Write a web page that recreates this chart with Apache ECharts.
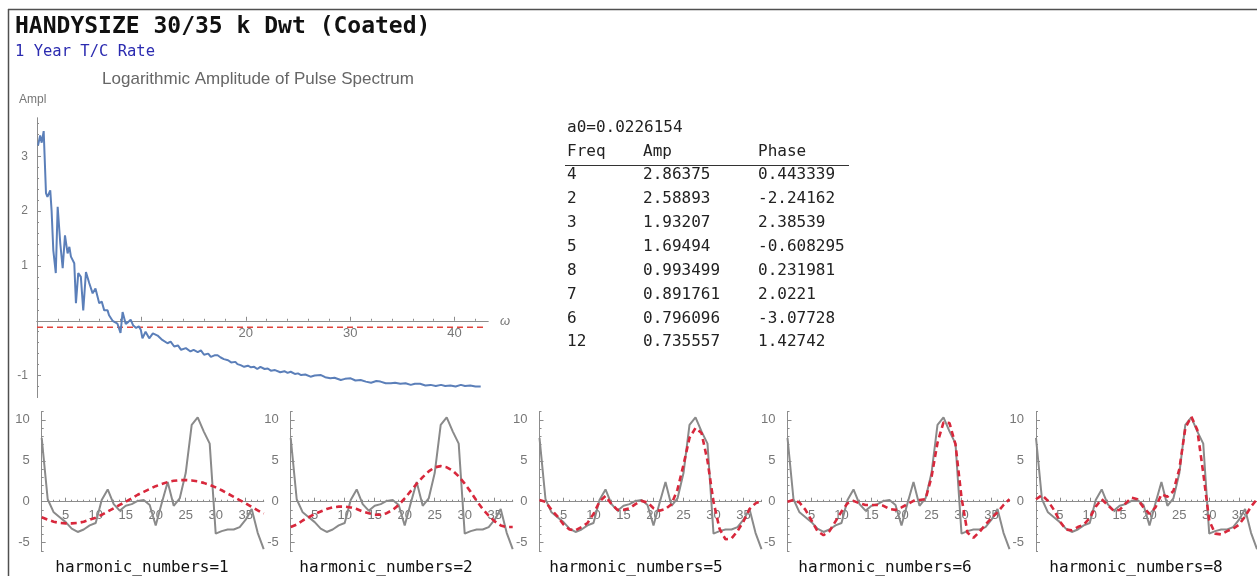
<!DOCTYPE html>
<html>
<head>
<meta charset="utf-8">
<script src="https://cdn.jsdelivr.net/npm/echarts@6/dist/echarts.min.js"></script>
<style>
  html, body { margin: 0; padding: 0; background: #fff; }
  #chart { width: 1257px; height: 576px; }
</style>
</head>
<body>
<div id="chart"></div>
<script>
// ---- Spectrum: log amplitude vs angular frequency ----
const omega = [0.1, 0.3, 0.45, 0.64, 0.86, 1.0, 1.27, 1.4, 1.56, 1.8, 1.98, 2.23, 2.46, 2.68, 2.93, 3.1, 3.25, 3.57, 3.73, 3.95,
  4.2, 4.43, 4.69, 5.0, 5.33, 5.6, 5.96, 6.2, 6.44, 6.76, 6.9, 7.24, 7.5, 7.7, 8.0, 8.2, 8.5, 8.75, 8.97, 9.2,
  9.5, 9.75, 9.95, 10.1, 10.4, 10.75, 11.1, 11.55, 12.0, 12.5, 12.8, 13.14, 13.5, 13.8, 14.26, 14.7, 15.0, 15.4, 15.7, 16.0,
  16.4, 16.65, 17.0, 17.3, 17.6, 17.9, 18.3, 18.6, 19.0, 19.2, 19.5, 19.84, 20.2, 20.5, 20.8, 21.1, 21.4, 21.8, 22.1, 22.4,
  22.8, 23.3, 23.7, 24.0, 24.3, 24.7, 25.0, 25.3, 25.7, 26.2, 26.6, 27.2, 27.6, 28.1, 28.5, 29.1, 29.5, 30.05, 30.5, 31.0,
  31.5, 32.0, 32.5, 32.9, 33.4, 33.9, 34.3, 34.8, 35.3, 35.8, 36.2, 36.7, 37.2, 37.7, 38.2, 38.7, 39.1, 39.6, 40.1, 40.6,
  41.0, 41.5, 42.0, 42.5];
const logAmp = [3.20, 3.38, 3.25, 3.46, 2.33, 2.26, 2.38, 2.0, 1.29, 0.87, 2.08, 1.41, 0.96, 1.56, 1.23, 1.35, 1.17, 1.05, 0.32, 0.87,
  0.80, 0.19, 0.89, 0.69, 0.50, 0.59, 0.32, 0.35, 0.19, 0.19, 0.10, 0.0, -0.03, -0.05, -0.22, 0.16, -0.06, -0.02, 0.02, -0.08,
  -0.13, -0.10, -0.17, -0.32, -0.20, -0.32, -0.23, -0.27, -0.35, -0.41, -0.38, -0.47, -0.45, -0.53, -0.50, -0.56, -0.53, -0.57, -0.54, -0.62,
  -0.60, -0.66, -0.63, -0.63, -0.67, -0.70, -0.72, -0.76, -0.75, -0.79, -0.81, -0.84, -0.82, -0.85, -0.84, -0.88, -0.84, -0.88, -0.87, -0.91,
  -0.90, -0.94, -0.92, -0.95, -0.93, -0.97, -0.96, -0.99, -0.98, -1.02, -1.00, -0.99, -1.03, -1.05, -1.04, -1.08, -1.06, -1.05, -1.09, -1.08,
  -1.11, -1.13, -1.10, -1.11, -1.14, -1.14, -1.13, -1.15, -1.14, -1.17, -1.15, -1.15, -1.18, -1.17, -1.19, -1.17, -1.19, -1.18, -1.20, -1.17,
  -1.19, -1.18, -1.20, -1.20];
const cutoffLevel = -0.12;
const cutoffSpan = [0, 43];

// ---- Strongest harmonics ----
const a0Text = 'a0=0.0226154';
const tableFreq = ['4', '2', '3', '5', '8', '7', '6', '12'];
const tableAmp = ['2.86375', '2.58893', '1.93207', '1.69494', '0.993499', '0.891761', '0.796096', '0.735557'];
const tablePhase = ['0.443339', '-2.24162', '2.38539', '-0.608295', '0.231981', '2.0221', '-3.07728', '1.42742'];

// ---- Rate series and partial Fourier reconstructions ----
const timeIndex = [1, 2, 3, 4, 5, 6, 7, 8, 9, 10, 11, 12, 13, 14, 15, 16, 17, 18, 19, 20,
  21, 22, 23, 24, 25, 26, 27, 28, 29, 30, 31, 32, 33, 34, 35, 36, 37, 38];
const rateSeries = [7.8, 0.3, -1.3, -1.9, -2.5, -3.3, -3.7, -3.4, -2.9, -2.6, 0.2, 1.5, -0.3, -1.1, -0.5, -0.3, 0.1, 0.2, -0.4, -2.9,
  -0.2, 2.4, -0.5, 0.4, 3.5, 9.4, 10.3, 8.6, 7.1, -3.9, -3.6, -3.4, -3.4, -3.1, -2.2, -0.9, -3.8, -5.8];
const fitH1 = [-1.9, -2.2, -2.45, -2.6, -2.65, -2.65, -2.6, -2.45, -2.2, -1.95, -1.6, -1.2, -0.8, -0.4, 0.0, 0.4, 0.85, 1.2, 1.55, 1.9,
  2.15, 2.4, 2.55, 2.63, 2.65, 2.6, 2.5, 2.3, 2.05, 1.75, 1.4, 1.0, 0.6, 0.2, -0.2, -0.65, -1.05, -1.45];
const fitH2 = [-3.1, -2.8, -2.3, -1.9, -1.5, -1.2, -0.9, -0.7, -0.6, -0.6, -0.7, -0.9, -1.2, -1.4, -1.6, -1.6, -1.4, -1.0, -0.4, 0.4,
  1.3, 2.2, 3.0, 3.7, 4.2, 4.35, 4.2, 3.8, 3.1, 2.2, 1.2, 0.1, -0.9, -1.7, -2.4, -2.9, -3.1, -3.1];
const fitH5 = [0.2, 0.0, -1.0, -1.8, -2.8, -3.4, -3.5, -3.1, -2.6, -1.5, 0.0, 0.7, -0.3, -1.0, -1.0, -0.8, -0.3, 0.1, -0.1, -0.8,
  -1.1, -0.9, -0.3, 1.5, 4.5, 7.8, 9.0, 8.4, 5.0, 0.0, -3.3, -4.6, -4.5, -3.6, -2.4, -0.9, -0.2, 0.1];
const fitH6 = [0.0, 0.2, -0.1, -1.0, -2.3, -3.6, -4.1, -3.6, -2.4, -1.2, -0.2, 0.1, -0.2, -0.4, -0.4, -0.4, -0.5, -0.9, -1.0, -0.7,
  -0.3, 0.1, 0.2, 0.3, 3.0, 7.2, 9.7, 9.6, 7.0, 0.5, -3.8, -4.4, -3.7, -2.8, -2.0, -1.3, -0.4, 0.3];
const fitH8 = [0.3, 0.8, 0.1, -1.0, -2.4, -3.4, -3.5, -3.1, -2.8, -2.0, -0.6, 0.3, -0.4, -1.1, -1.0, -0.2, 0.5, 0.3, -0.7, -1.5,
  -0.7, 0.9, 0.6, 1.3, 4.0, 9.0, 10.4, 8.8, 3.5, -2.3, -3.9, -4.0, -3.6, -3.3, -2.8, -1.8, -0.6, 0.3];
const harmonicCounts = [1, 2, 5, 6, 8];
const fits = [fitH1, fitH2, fitH5, fitH6, fitH8];

// ---- Tick values ----
const specXMajor = [0, 10, 20, 30, 40];
const specXLabels = [20, 30, 40];
const specXMinor = [2, 4, 6, 8, 12, 14, 16, 18, 22, 24, 26, 28, 32, 34, 36, 38, 42];
const specYMajor = [-1, 0, 1, 2, 3];
const specYLabels = [-1, 1, 2, 3];
const specYMinor = [-1.2, -0.8, -0.6, -0.4, -0.2, 0.2, 0.4, 0.6, 0.8, 1.2, 1.4, 1.6, 1.8, 2.2, 2.4, 2.6, 2.8, 3.2, 3.4, 3.6];
const panelXMajor = [5, 10, 15, 20, 25, 30, 35];
const panelXMinor = [2, 3, 4, 6, 7, 8, 9, 11, 12, 13, 14, 16, 17, 18, 19, 21, 22, 23, 24, 26, 27, 28, 29, 31, 32, 33, 34, 36, 37, 38];
const panelYMajor = [-5, 0, 5, 10];
const panelYMinor = [-6, -4, -3, -2, -1, 1, 2, 3, 4, 6, 7, 8, 9, 11];

const AXIS = '#8c8c8c';
const LABEL = '#777';
const MONO = '"DejaVu Sans Mono", "Liberation Mono", monospace';
const SANS = '"Liberation Sans", Arial, sans-serif';

// Value axis with custom tick/label positions.  For the horizontal axes the
// line is lifted from the grid bottom to the y = 0 level (offset < 0).
function axis(gridIndex, min, max, pos, major, labels, opts) {
  opts = opts || {};
  return {
    type: 'value', gridIndex, min, max, position: pos, offset: opts.offset || 0,
    axisLine: { show: true, onZero: false, lineStyle: { color: AXIS, width: 1 } },
    axisTick: { show: true, inside: true, length: opts.tickLen || 4, customValues: major, lineStyle: { color: AXIS } },
    axisLabel: labels ? {
      show: true, customValues: labels, color: LABEL, fontSize: opts.fontSize || 12,
      fontFamily: SANS, margin: opts.margin || 6
    } : { show: false },
    splitLine: { show: false }
  };
}

const grids = [];
const xAxes = [];
const yAxes = [];
const series = [];

// Spectrum panel
const specRange = { xMin: 0, xMax: 43.2, yMin: -1.4, yMax: 3.7 };
const specBox = { left: 37, top: 118, width: 451, height: 279.5 };
const specZeroOffset = -(0 - specRange.yMin) / (specRange.yMax - specRange.yMin) * specBox.height;
grids.push(specBox);
xAxes.push(axis(0, specRange.xMin, specRange.xMax, 'bottom', specXMajor, specXLabels, { margin: 6, fontSize: 13, offset: specZeroOffset }));
xAxes.push(axis(0, specRange.xMin, specRange.xMax, 'bottom', specXMinor, null, { tickLen: 2, offset: specZeroOffset }));
yAxes.push(axis(0, specRange.yMin, specRange.yMax, 'left', specYMajor, specYLabels, { margin: 9, fontSize: 12 }));
yAxes.push(axis(0, specRange.yMin, specRange.yMax, 'left', specYMinor, null, { tickLen: 2 }));
series.push({
  type: 'line', xAxisIndex: 0, yAxisIndex: 0, showSymbol: false, animation: false,
  data: omega.map((w, i) => [w, logAmp[i]]),
  lineStyle: { color: '#5b7fb9', width: 2 }, z: 3
});
series.push({
  type: 'line', xAxisIndex: 0, yAxisIndex: 0, showSymbol: false, animation: false,
  data: cutoffSpan.map(w => [w, cutoffLevel]),
  lineStyle: { color: '#e0443c', width: 1.5, type: [6, 4] }, z: 2
});

// Reconstruction panels
const panelRange = { xMin: 1, xMax: 38, yMin: -6.1, yMax: 11 };
const panelAxisX = [41.7, 290.7, 539.5, 787.5, 1036];
const panelH = 139.9;
const panelZeroOffset = -(0 - panelRange.yMin) / (panelRange.yMax - panelRange.yMin) * panelH;
panelAxisX.forEach((left, k) => {
  const gi = k + 1;
  grids.push({ left: left, top: 411.7, width: 222, height: panelH });
  xAxes.push(axis(gi, panelRange.xMin, panelRange.xMax, 'bottom', panelXMajor, panelXMajor, { margin: 7, fontSize: 13, offset: panelZeroOffset }));
  xAxes.push(axis(gi, panelRange.xMin, panelRange.xMax, 'bottom', panelXMinor, null, { tickLen: 2, offset: panelZeroOffset }));
  yAxes.push(axis(gi, panelRange.yMin, panelRange.yMax, 'left', panelYMajor, panelYMajor, { margin: 12, fontSize: 13 }));
  yAxes.push(axis(gi, panelRange.yMin, panelRange.yMax, 'left', panelYMinor, null, { tickLen: 2 }));
  const xi = 2 + 2 * k;
  series.push({
    type: 'line', xAxisIndex: xi, yAxisIndex: xi, showSymbol: false, animation: false,
    data: timeIndex.map((t, i) => [t, rateSeries[i]]),
    lineStyle: { color: '#8a8a8a', width: 2 }, z: 2
  });
  series.push({
    type: 'line', xAxisIndex: xi, yAxisIndex: xi, showSymbol: false, animation: false,
    data: timeIndex.map((t, i) => [t, fits[k][i]]),
    lineStyle: { color: '#d8283c', width: 2.6, type: [6, 4] }, z: 3
  });
});

// Text and frame
const graphic = [];
graphic.push({ type: 'line', shape: { x1: 8, y1: 9.5, x2: 1257, y2: 9.5 }, style: { stroke: '#505050', lineWidth: 1.5 } });
graphic.push({ type: 'line', shape: { x1: 8.5, y1: 9, x2: 8.5, y2: 576 }, style: { stroke: '#505050', lineWidth: 1.5 } });
graphic.push({ type: 'text', x: 15, y: 27, style: { text: 'HANDYSIZE 30/35 k Dwt (Coated)', font: 'bold 23px ' + MONO, fill: '#111', verticalAlign: 'middle' } });
graphic.push({ type: 'text', x: 15, y: 52, style: { text: '1 Year T/C Rate', font: '15.5px ' + MONO, fill: '#2b2bb0', verticalAlign: 'middle' } });
graphic.push({ type: 'text', x: 258, y: 79, style: { text: 'Logarithmic Amplitude of Pulse Spectrum', font: '17px ' + SANS, fill: '#666', align: 'center', verticalAlign: 'middle' } });
graphic.push({ type: 'text', x: 19, y: 100, style: { text: 'Ampl', font: '12px ' + SANS, fill: LABEL, verticalAlign: 'middle' } });
graphic.push({ type: 'text', x: 500, y: 321, style: { text: 'ω', font: 'italic 13px ' + SANS, fill: LABEL, verticalAlign: 'middle' } });

const colX = [567, 643, 758];
graphic.push({ type: 'text', x: colX[0], y: 128, style: { text: a0Text, font: '16px ' + MONO, fill: '#222', verticalAlign: 'middle' } });
['Freq', 'Amp', 'Phase'].forEach((h, c) => {
  graphic.push({ type: 'text', x: colX[c], y: 152, style: { text: h, font: '16px ' + MONO, fill: '#222', verticalAlign: 'middle' } });
});
graphic.push({ type: 'line', shape: { x1: 565, y1: 165.5, x2: 849, y2: 165.5 }, style: { stroke: '#333', lineWidth: 1 } });
tableFreq.forEach((f, r) => {
  const y = 175 + r * 23.9;
  [f, tableAmp[r], tablePhase[r]].forEach((v, c) => {
    graphic.push({ type: 'text', x: colX[c], y: y, style: { text: v, font: '16px ' + MONO, fill: '#222', verticalAlign: 'middle' } });
  });
});

const captionX = [142, 386, 636, 885, 1136];
harmonicCounts.forEach((h, k) => {
  graphic.push({ type: 'text', x: captionX[k], y: 568, style: { text: 'harmonic_numbers=' + h, font: '16px ' + MONO, fill: '#111', align: 'center', verticalAlign: 'middle' } });
});

const chart = echarts.init(document.getElementById('chart'), null, { renderer: 'canvas' });
chart.setOption({
  animation: false,
  backgroundColor: '#fff',
  grid: grids,
  xAxis: xAxes,
  yAxis: yAxes,
  series: series,
  graphic: graphic
});
</script>
</body>
</html>
